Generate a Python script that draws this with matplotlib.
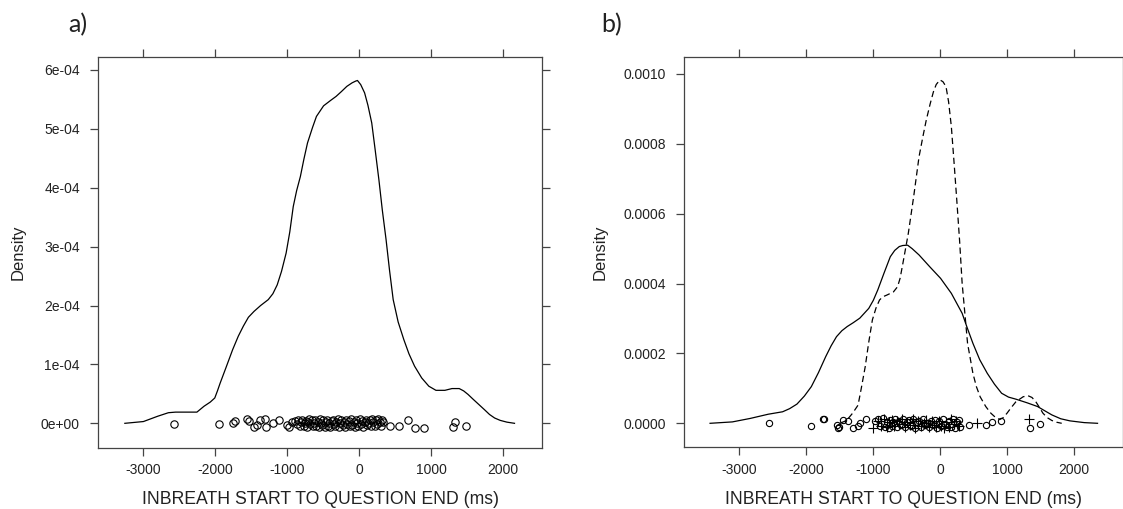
import matplotlib
matplotlib.use("Agg")
import matplotlib.pyplot as plt

plt.rcParams['font.family'] = ['Liberation Sans', 'DejaVu Sans']

# ---------------- panel a: one density curve (all data) ----------------
a_curve_x = [-3256, -2998, -2800, -2651, -2552, -2403, -2255, -2156, -2070, -2007,
             -1970, -1933, -1850, -1759, -1680, -1610, -1540, -1462, -1370, -1264,
             -1200, -1140, -1080, -1016, -965, -917, -870, -818, -770, -719,
             -650, -595, -496, -400, -322, -250, -173, -100, -50, -25,
             20, 74, 120, 173, 220, 273, 320, 372, 420, 471,
             540, 619, 690, 768, 867, 966, 1065, 1189, 1288, 1388,
             1450, 1511, 1580, 1660, 1740, 1809, 1880, 1957, 2050, 2156]
a_curve_y = [0.0, 0.03, 0.12, 0.18, 0.19, 0.19, 0.19, 0.29, 0.36, 0.43,
             0.55, 0.68, 0.95, 1.25, 1.48, 1.65, 1.80, 1.90, 2.00, 2.10,
             2.20, 2.35, 2.58, 2.89, 3.25, 3.68, 3.95, 4.19, 4.48, 4.76,
             5.02, 5.21, 5.39, 5.48, 5.55, 5.63, 5.72, 5.78, 5.81, 5.82,
             5.75, 5.61, 5.40, 5.10, 4.65, 4.13, 3.62, 3.12, 2.60, 2.10,
             1.72, 1.42, 1.18, 0.97, 0.77, 0.63, 0.56, 0.56, 0.59, 0.59,
             0.55, 0.49, 0.41, 0.32, 0.23, 0.15, 0.09, 0.05, 0.02, 0.0]  # x 1e-4

a_points_x = [-2569, -1944, -1750, -1726, -1555, -1528, -1458, -1425, -1379, -1310,
              -1300, -1203, -1115, -1009, -972, -939, -893, -870,
              -850, -830, -812, -790, -772, -760, -745, -728, -710, -695,
              -680, -662, -645, -630, -612, -596, -580, -560, -548, -530,
              -515, -498, -480, -466, -450, -432, -415, -400, -385, -368,
              -352, -335, -318, -300, -283, -265, -248, -230, -214, -198,
              -180, -165, -148, -130, -112, -96, -80, -62, -45, -28,
              -12, 5, 22, 40, 56, 74, 90, 108, 125, 142,
              160, 176, 194, 212, 230, 248, 265, 282, 300, 318,
              330, 426, 551, 681, 774, 903, 1306, 1329, 1478]
a_points_jit = [-0.02, -0.02, 0.01, 0.04, 0.07, 0.04, -0.07, -0.03, 0.06, 0.08,
                -0.06, 0.00, 0.06, -0.03, -0.06, 0.02, 0.04, -0.02,
                0.05, -0.04, 0.02, 0.06, -0.05, 0.00, 0.04, -0.06, 0.03, 0.07,
                -0.02, 0.05, -0.05, 0.01, 0.06, -0.04, 0.03, -0.06, 0.07, 0.00,
                -0.03, 0.05, -0.06, 0.02, 0.06, -0.04, 0.01, -0.07, 0.04, 0.06,
                -0.02, -0.05, 0.03, 0.07, -0.06, 0.00, 0.05, -0.03, 0.02, -0.06,
                0.06, -0.01, 0.04, -0.05, 0.07, -0.03, 0.02, -0.06, 0.05, 0.00,
                -0.04, 0.07, -0.02, 0.04, -0.06, 0.03, 0.06, -0.03, 0.01, 0.05,
                -0.05, 0.07, 0.02, -0.04, 0.05, -0.02, 0.08, 0.03, -0.05, 0.06,
                0.02, -0.05, -0.04, 0.05, -0.08, -0.08, -0.06, 0.03, -0.04]

# ---------------- panel b: two groups ----------------
b_solid_x = [-3439, -3106, -2838, -2570, -2355, -2250, -2141, -2030, -1926, -1820,
             -1711, -1630, -1550, -1470, -1390, -1300, -1202, -1068, -1000, -933,
             -840, -746, -680, -612, -560, -488, -420, -317, -156, 5,
             166, 327, 400, 488, 590, 703, 810, 917, 1020, 1132,
             1293, 1454, 1560, 1668, 1800, 1937, 2150, 2350]
b_solid_y = [0.0, 0.04, 0.14, 0.26, 0.33, 0.42, 0.55, 0.78, 1.05, 1.45,
             1.91, 2.22, 2.48, 2.65, 2.77, 2.88, 3.01, 3.29, 3.52, 3.82,
             4.30, 4.77, 4.95, 5.06, 5.09, 5.10, 5.00, 4.82, 4.48, 4.15,
             3.72, 3.15, 2.75, 2.29, 1.82, 1.43, 1.12, 0.86, 0.75, 0.69,
             0.59, 0.48, 0.36, 0.24, 0.13, 0.07, 0.02, 0.0]  # x 1e-4

b_dash_x = [-1500, -1400, -1309, -1228, -1180, -1121, -1070, -1014, -960, -907,
            -860, -799, -700, -638, -600, -558, -477, -397, -317, -260,
            -209, -150, -102, -60, -5, 40, 86, 125, 166, 205,
            247, 290, 327, 370, 408, 488, 540, 596, 680, 756,
            830, 891, 940, 998, 1060, 1132, 1239, 1311, 1370, 1427,
            1480, 1534, 1600, 1668, 1740, 1815]
b_dash_y = [0.0, 0.08, 0.29, 0.52, 1.00, 1.62, 2.30, 2.96, 3.30, 3.53,
            3.62, 3.67, 3.76, 3.91, 4.15, 4.58, 5.44, 6.49, 7.63, 8.20,
            8.68, 9.15, 9.49, 9.70, 9.83, 9.78, 9.64, 9.20, 8.49, 7.50,
            6.39, 5.20, 4.01, 3.10, 2.29, 1.43, 1.05, 0.76, 0.48, 0.29,
            0.16, 0.11, 0.16, 0.29, 0.45, 0.62, 0.76, 0.79, 0.74, 0.62,
            0.46, 0.29, 0.16, 0.08, 0.03, 0.0]  # x 1e-4

b_circ_x = [-2561, -1937, -1745, -1732, -1540, -1525, -1515, -1450, -1384, -1310,
            -1225, -1202, -1111, -980, -935, -900, -860, -820, -790, -770,
            -745, -720, -700, -670, -640, -610, -585, -560, -530, -500,
            -470, -440, -410, -380, -350, -320, -290, -260, -230, -200,
            -170, -140, -110, -80, -50, -20, 10, 40, 70, 100,
            130, 160, 190, 220, 250, 275, 294, 433, 683, 773,
            912, 1341, 1490]
b_circ_jit = [0.00, -0.09, 0.11, 0.12, -0.06, -0.14, -0.11, 0.10, 0.08, -0.13,
              -0.08, 0.00, 0.11, 0.08, 0.12, -0.07, 0.14, -0.11, 0.05, -0.14,
              0.10, -0.08, 0.03, 0.12, -0.11, 0.07, -0.04, 0.11, -0.12, 0.04,
              0.10, -0.07, 0.12, -0.14, 0.03, 0.08, -0.10, 0.11, -0.06, 0.01,
              -0.12, 0.08, -0.04, 0.10, -0.14, 0.06, -0.08, 0.12, -0.03, -0.12,
              0.07, -0.10, 0.11, -0.14, 0.04, 0.10, -0.11, -0.04, -0.04, 0.03,
              0.08, -0.14, -0.03]

b_plus_x = [-1001, -930, -880, -840, -800, -760, -720, -690, -650, -610,
            -570, -530, -490, -450, -410, -370, -330, -290, -250, -210,
            -170, -130, -95, -60, -25, 15, 50, 90, 125, 160,
            200, 240, 280, 553, 1330]
b_plus_jit = [-0.14, 0.06, -0.08, 0.11, -0.12, 0.03, 0.10, -0.07, 0.07, -0.03,
              0.12, -0.10, 0.04, -0.06, 0.11, -0.14, 0.07, -0.08, 0.01, 0.10,
              -0.11, 0.06, -0.04, -0.12, 0.08, -0.08, -0.14, 0.04, -0.10, 0.11,
              -0.03, 0.08, -0.07, 0.00, 0.11]

x_ticks = [-3000, -2000, -1000, 0, 1000, 2000]
a_yticks = [0, 1e-4, 2e-4, 3e-4, 4e-4, 5e-4, 6e-4]
a_ylabels = ['0e+00', '1e-04', '2e-04', '3e-04', '4e-04', '5e-04', '6e-04']
b_yticks = [0, 2e-4, 4e-4, 6e-4, 8e-4, 1e-3]
b_ylabels = ['0.0000', '0.0002', '0.0004', '0.0006', '0.0008', '0.0010']

xlabel = 'INBREATH START TO QUESTION END (ms)'
W, H = 1123, 509

fig = plt.figure(figsize=(W / 100, H / 100), dpi=100)
ax_a = fig.add_axes([97.7 / W, 61.3 / H, 444.6 / W, 391 / H])
ax_b = fig.add_axes([683.5 / W, 61.7 / H, 439 / W, 390.6 / H])


def style(ax):
    for s in ax.spines.values():
        s.set_color('#444444')
        s.set_linewidth(0.9)
    ax.tick_params(axis='both', direction='out', length=5.8, width=0.9, color='#444444',
                   labelsize=10, labelcolor='#222222', top=True, right=True,
                   labeltop=False, labelright=False)
    ax.tick_params(axis='y', pad=7)
    ax.tick_params(axis='x', pad=5.5)
    ax.set_xticks(x_ticks)
    ax.set_xticklabels([str(t) for t in x_ticks])


# panel a
ax_a.plot(a_curve_x, [v * 1e-4 for v in a_curve_y], color='black', lw=0.9)
ax_a.plot(a_points_x, [v * 1e-4 for v in a_points_jit], linestyle='none', marker='o',
          ms=5.3, mfc='none', mec='black', mew=0.8)
style(ax_a)
ax_a.set_yticks(a_yticks)
ax_a.set_yticklabels(a_ylabels)
ax_a.set_xlim(-3633, 2542)
ax_a.set_ylim(-0.414e-4, 6.224e-4)

# panel b
ax_b.plot(b_solid_x, [v * 1e-4 for v in b_solid_y], color='black', lw=0.9)
ax_b.plot(b_dash_x, [v * 1e-4 for v in b_dash_y], color='black', lw=0.9, dashes=(5, 3))
ax_b.plot(b_circ_x, [v * 1e-4 for v in b_circ_jit], linestyle='none', marker='o',
          ms=4.5, mfc='none', mec='black', mew=0.8)
ax_b.plot(b_plus_x, [v * 1e-4 for v in b_plus_jit], linestyle='none', marker='+',
          ms=6.5, mec='black', mew=0.8)
style(ax_b)
ax_b.set_yticks(b_yticks)
ax_b.set_yticklabels(b_ylabels)
ax_b.set_xlim(-3836, 2723)
ax_b.set_ylim(-0.0687e-3, 1.0495e-3)

# labels
for xc in (320 / W, 903 / W):
    fig.text(xc, 5 / H, xlabel, ha='center', va='baseline', fontsize=12.7, color='#222222')
for xc in (18.5 / W, 600 / W):
    fig.text(xc, 0.504, 'Density', rotation=90, ha='center', va='center',
             fontsize=12, color='#222222')
fig.text(68 / W, 1 - 25 / H, 'a)', ha='left', va='center', fontsize=18,
         family=['Lato', 'DejaVu Sans'], color='#222222')
fig.text(601 / W, 1 - 25 / H, 'b)', ha='left', va='center', fontsize=18,
         family=['Lato', 'DejaVu Sans'], color='#222222')

fig.savefig('out.png', dpi=100)
